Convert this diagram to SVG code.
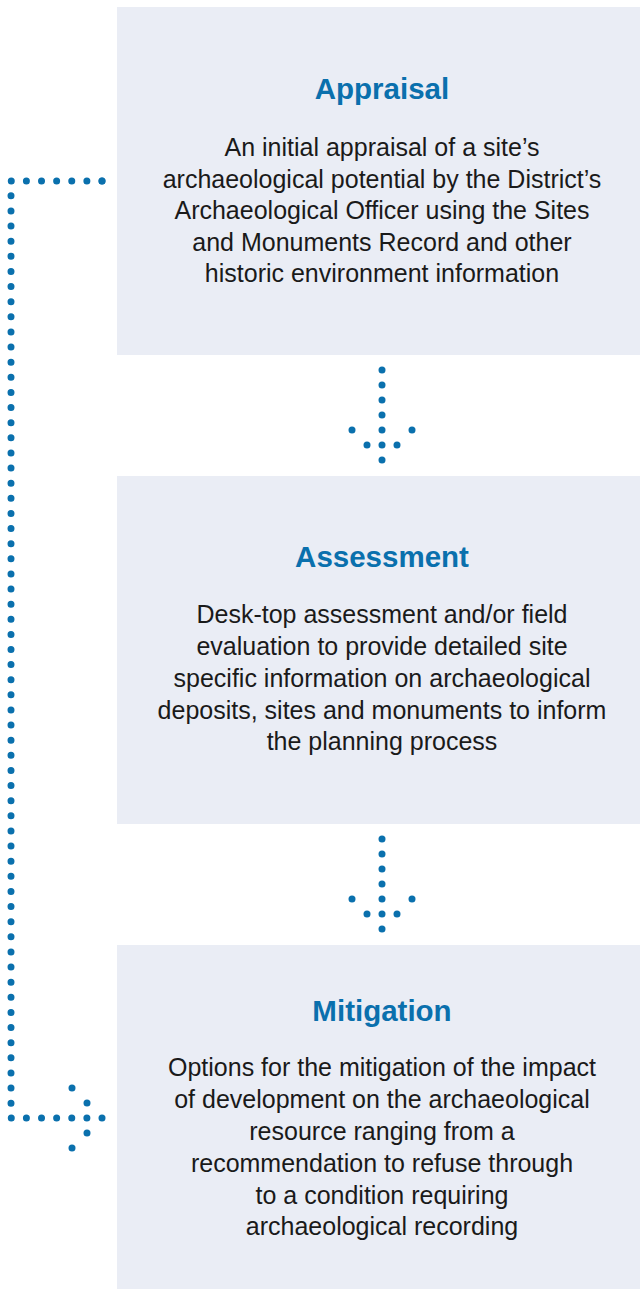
<svg xmlns="http://www.w3.org/2000/svg" width="640" height="1289" viewBox="0 0 640 1289">
<style>
.box{fill:#eaedf5}
.title{font-family:"Liberation Sans",Arial,sans-serif;font-weight:bold;font-size:29.5px;fill:#0a70ad;text-anchor:middle}
.body{font-family:"Liberation Sans",Arial,sans-serif;font-size:25px;fill:#1a1a1a;text-anchor:middle}
.dot{fill:#0a70ad}
.dline{fill:none;stroke:#0a70ad;stroke-width:7;stroke-linecap:round;stroke-dasharray:0 1}
</style>
<defs>
<circle id="d" r="3.5" class="dot"/>
</defs>
<rect width="640" height="1289" fill="#ffffff"/>
<g id="appraisal">
<rect class="box" x="117" y="7" width="523" height="348"/>
<text class="title" x="382" y="99">Appraisal</text>
<text class="body" x="382" y="156">An initial appraisal of a site’s</text>
<text class="body" x="382" y="187.5">archaeological potential by the District’s</text>
<text class="body" x="382" y="219">Archaeological Officer using the Sites</text>
<text class="body" x="382" y="250.5">and Monuments Record and other</text>
<text class="body" x="382" y="282">historic environment information</text>
</g>
<g id="assessment">
<rect class="box" x="117" y="476" width="523" height="348"/>
<text class="title" x="382" y="567">Assessment</text>
<text class="body" x="382" y="623">Desk-top assessment and/or field</text>
<text class="body" x="382" y="655">evaluation to provide detailed site</text>
<text class="body" x="382" y="686.5">specific information on archaeological</text>
<text class="body" x="382" y="718.5">deposits, sites and monuments to inform</text>
<text class="body" x="382" y="750">the planning process</text>
</g>
<g id="mitigation">
<rect class="box" x="117" y="945" width="523" height="344"/>
<text class="title" x="382" y="1021">Mitigation</text>
<text class="body" x="382" y="1076">Options for the mitigation of the impact</text>
<text class="body" x="382" y="1108">of development on the archaeological</text>
<text class="body" x="382" y="1140">resource ranging from a</text>
<text class="body" x="382" y="1171.5">recommendation to refuse through</text>
<text class="body" x="382" y="1203.5">to a condition requiring</text>
<text class="body" x="382" y="1235">archaeological recording</text>
</g>
<g id="connectors">
<g id="arrow-appraisal-assessment">
<use href="#d" x="382" y="370"/><use href="#d" x="382" y="385"/><use href="#d" x="382" y="400"/><use href="#d" x="382" y="415"/><use href="#d" x="382" y="430"/><use href="#d" x="382" y="445"/><use href="#d" x="382" y="460"/>
<use href="#d" x="352" y="430"/><use href="#d" x="412" y="430"/><use href="#d" x="367" y="445"/><use href="#d" x="397" y="445"/>
</g>
<g id="arrow-assessment-mitigation">
<use href="#d" x="382" y="839"/><use href="#d" x="382" y="854"/><use href="#d" x="382" y="869"/><use href="#d" x="382" y="884"/><use href="#d" x="382" y="899"/><use href="#d" x="382" y="914"/><use href="#d" x="382" y="929"/>
<use href="#d" x="352" y="899"/><use href="#d" x="412" y="899"/><use href="#d" x="367" y="914"/><use href="#d" x="397" y="914"/>
</g>
<g id="arrow-appraisal-mitigation">
<path class="dline" pathLength="74" d="M102,181 H11 V1118 H102"/>
<use href="#d" x="102" y="181"/><use href="#d" x="102" y="1118"/>
<use href="#d" x="72" y="1088"/><use href="#d" x="87" y="1103"/><use href="#d" x="87" y="1133"/><use href="#d" x="72" y="1148"/>
</g>
</g>
</svg>
